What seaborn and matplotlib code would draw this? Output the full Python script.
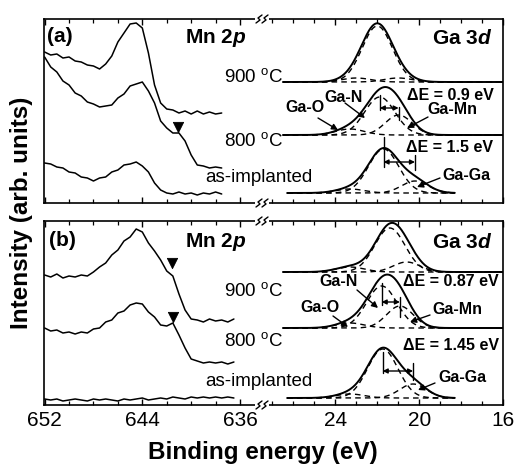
import numpy as np
import matplotlib
matplotlib.use("Agg")
import matplotlib.pyplot as plt
import seaborn as sns
from matplotlib.lines import Line2D
from matplotlib.patches import Rectangle, FancyArrowPatch
from matplotlib.ticker import MultipleLocator, FixedLocator

# ---------------- data ----------------
# Mn 2p spectra (binding energy in eV, intensity in arb. units)
mn_energy_a = np.arange(652.0, 637.4, -0.5)
mn_energy_b = np.arange(652.0, 636.4, -0.5)

mn_a_900 = [151, 148, 149, 145, 146, 142, 141, 138, 137, 134, 139, 147, 161, 170, 179,
            180, 175, 150, 118, 100, 94, 93, 90, 92, 89, 92, 89, 91, 89, 90]
mn_a_800 = [146, 136, 131, 122, 118, 110, 107, 101, 99, 96, 97, 98, 105, 109, 117,
            119, 121, 112, 100, 82, 75, 70, 70, 62, 48, 38, 37, 35, 36, 35]
mn_a_as = [40, 39, 36, 35, 31, 30, 26, 25, 22, 25, 26, 31, 33, 38, 39,
           41, 37, 31, 20, 13, 10, 9, 11, 9, 10, 8, 10, 9, 11, 9]

mn_b_900 = [130, 128, 131, 127, 129, 128, 130, 129, 133, 138, 142, 150, 155, 164, 168, 176,
            173, 162, 154, 145, 134, 129, 111, 95, 86, 85, 83, 86, 84, 85, 83, 86]
mn_b_800 = [77, 74, 75, 72, 73, 71, 73, 72, 76, 77, 83, 85, 92, 94, 100, 102,
            101, 93, 88, 80, 79, 82, 70, 57, 46, 44, 42, 43, 42, 43, 41, 43]
mn_b_as = [6, 5, 6, 4, 5, 6, 5, 4, 6, 5, 6, 5, 4, 6, 5, 6,
           7, 5, 6, 7, 6, 8, 7, 6, 8, 7, 8, 7, 8, 7, 8, 7]

# shoulder markers (triangles)
mark_a_e = [641.1]
mark_a_y = [76]
mark_b_e = [641.6, 641.5]
mark_b_y = [142, 88]

# Ga 3d fitted components: order = [Ga-O, Ga-N, Ga-Mn / Ga-Ga]
ga_a_base = [121, 68, 10]
ga_a_center = [[23.0, 22.0, 21.0], [23.3, 21.88, 20.98], [23.3, 21.7, 20.2]]
ga_a_height = [[4, 56, 4], [6, 38, 20], [4, 44, 12]]
ga_a_fwhm = [[1.6, 1.7, 1.6], [1.6, 1.7, 1.5], [1.6, 1.7, 1.5]]

ga_b_base = [133, 77, 7]
ga_b_center = [[23.3, 21.4, 20.6], [23.3, 21.79, 20.92], [23.3, 21.74, 20.29]]
ga_b_height = [[5, 44, 10], [5, 42, 22], [4, 49, 14]]
ga_b_fwhm = [[1.6, 1.7, 1.5], [1.6, 1.7, 1.5], [1.6, 1.7, 1.5]]

temps = ["900 $^{\\rm o}$C", "800 $^{\\rm o}$C", "as-implanted"]
delta_a = ["\u0394E = 0.9 eV", "\u0394E = 1.5 eV"]
delta_b = ["\u0394E = 0.87 eV", "\u0394E = 1.45 eV"]

# ---------------- style ----------------
sns.set_theme(style="white")
plt.rcParams["font.family"] = ["Liberation Sans", "DejaVu Sans"]
plt.rcParams["mathtext.fontset"] = "custom"
plt.rcParams["mathtext.rm"] = "Liberation Sans"
plt.rcParams["mathtext.it"] = "Liberation Sans:italic:bold"
plt.rcParams["mathtext.bf"] = "Liberation Sans:bold"
for k in ("text.color", "axes.labelcolor", "xtick.color", "ytick.color", "axes.edgecolor"):
    plt.rcParams[k] = "black"

W, H = 515, 470
fig = plt.figure(figsize=(W / 100, H / 100), dpi=100)
fig.patch.set_facecolor("white")


def rect(x0, y0, x1, y1):
    return [x0 / W, 1 - y1 / H, (x1 - x0) / W, (y1 - y0) / H]


XB = 262
axes = {
    "a": (fig.add_axes(rect(44, 19, XB, 203)), fig.add_axes(rect(XB, 19, 503, 203))),
    "b": (fig.add_axes(rect(44, 221, XB, 405)), fig.add_axes(rect(XB, 221, 503, 405))),
}

for key, (axl, axr) in axes.items():
    for ax in (axl, axr):
        ax.set_facecolor("none")
        ax.set_ylim(0, 184)
        ax.set_yticks([])
        for s in ax.spines.values():
            s.set_linewidth(1.2)
            s.set_color("black")
        ax.tick_params(which="both", direction="in", top=True, bottom=True,
                       left=False, right=False, colors="black", labelcolor="black",
                       labelbottom=(key == "b"), labelsize=15, pad=4)
        ax.tick_params(which="major", length=4.5, width=1.0)
        ax.tick_params(which="minor", length=3, width=0.9)
    axl.spines["right"].set_visible(False)
    axr.spines["left"].set_visible(False)
    axl.set_xlim(652.05, 634.2)
    axl.xaxis.set_major_locator(FixedLocator([652, 644, 636]))
    axl.xaxis.set_minor_locator(MultipleLocator(2))
    axr.set_xlim(27.5, 16)
    axr.xaxis.set_major_locator(FixedLocator([24, 20, 16]))
    axr.xaxis.set_minor_locator(MultipleLocator(1))

# ---------------- Mn 2p ----------------
for key, e, curves in (("a", mn_energy_a, (mn_a_900, mn_a_800, mn_a_as)),
                       ("b", mn_energy_b, (mn_b_900, mn_b_800, mn_b_as))):
    axl = axes[key][0]
    for c in curves:
        sns.lineplot(x=e, y=c, ax=axl, color="black", linewidth=1.1,
                     estimator=None, sort=False, legend=False)
    axl.set_xlabel("")
    axl.set_ylabel("")

sns.scatterplot(x=mark_a_e, y=mark_a_y, ax=axes["a"][0], marker="v", s=55,
                color="black", edgecolor="black", legend=False)
sns.scatterplot(x=mark_b_e, y=mark_b_y, ax=axes["b"][0], marker="v", s=55,
                color="black", edgecolor="black", legend=False)


# ---------------- Ga 3d ----------------
def gauss(e, c, h, w):
    s = w / 2.3548
    return h * np.exp(-0.5 * ((e - c) / s) ** 2)


def draw_ga(ax, bases, centers, heights, fwhms):
    for i, base in enumerate(bases):
        lo = 18.3 if i == 2 else 16.0
        hi = 26.3 if i == 2 else 26.5
        e = np.linspace(hi, lo, 400)
        comps = [gauss(e, c, h, w) for c, h, w in zip(centers[i], heights[i], fwhms[i])]
        for comp in comps:
            sns.lineplot(x=e, y=base + comp, ax=ax, color="black", linewidth=1.0,
                         linestyle=(0, (4, 3)), estimator=None, sort=False, legend=False)
        sns.lineplot(x=e, y=base + np.sum(comps, axis=0), ax=ax, color="black",
                     linewidth=1.4, estimator=None, sort=False, legend=False)
    ax.set_xlabel("")
    ax.set_ylabel("")


draw_ga(axes["a"][1], ga_a_base, ga_a_center, ga_a_height, ga_a_fwhm)
draw_ga(axes["b"][1], ga_b_base, ga_b_center, ga_b_height, ga_b_fwhm)


def delta_marker(ax, c1, c2, l1, l2, ya):
    ax.plot([c1, c1], l1, color="black", lw=1.0)
    ax.plot([c2, c2], l2, color="black", lw=1.0)
    ax.annotate("", xy=(c2, ya), xytext=(c1, ya),
                arrowprops=dict(arrowstyle="<|-|>", color="black", lw=1.0,
                                mutation_scale=7, shrinkA=0, shrinkB=0))


axr = axes["a"][1]
delta_marker(axr, ga_a_center[1][1], ga_a_center[1][2], (108, 93), (96, 83), 95)
delta_marker(axr, ga_a_center[2][1], ga_a_center[2][2], (66, 36), (48, 33), 41)
axr = axes["b"][1]
delta_marker(axr, ga_b_center[1][1], ga_b_center[1][2], (122, 100), (108, 88), 103)
delta_marker(axr, ga_b_center[2][1], ga_b_center[2][2], (53, 32), (42, 25), 34)

# ---------------- texts ----------------
bold15 = dict(fontsize=15, fontweight="bold", color="black", ha="center", va="center")
lab = dict(fontsize=11.5, fontweight="bold", color="black", ha="center", va="center")
tmp = dict(fontsize=13.5, color="black", ha="right", va="center")

fig.text(60 / W, 1 - 36 / H, "(a)", **bold15)
fig.text(62 / W, 1 - 241 / H, "(b)", **bold15)
for y in (38, 242):
    fig.text(216 / W, 1 - y / H, "Mn 2$\\it{p}$", **bold15)
for y in (39, 243):
    fig.text(462 / W, 1 - y / H, "Ga 3$\\it{d}$", **bold15)

for (x, y), t in zip(((283, 77), (283, 141), (312, 178)), temps):
    fig.text(x / W, 1 - y / H, t, **tmp)
for (x, y), t in zip(((283, 291), (283, 341), (313, 381)), temps):
    fig.text(x / W, 1 - y / H, t, **tmp)


def label(text, pos, start=None, end=None):
    fig.text(pos[0] / W, 1 - pos[1] / H, text, **lab)
    if start is not None:
        fig.add_artist(FancyArrowPatch(
            (start[0] / W, 1 - start[1] / H), (end[0] / W, 1 - end[1] / H),
            transform=fig.transFigure, arrowstyle="-|>", mutation_scale=9,
            color="black", lw=1.0, shrinkA=0, shrinkB=0))


label("Ga-N", (344, 97), (345, 103), (365, 118))
label("Ga-O", (305, 108), (318, 118), (338, 130))
label("Ga-Mn", (452, 110), (428, 117), (407, 128))
label(delta_a[0], (450, 95))
label(delta_a[1], (449, 148))
label("Ga-Ga", (466, 175), (440, 178), (417, 187))

label("Ga-N", (339, 282), (357, 290), (378, 308))
label("Ga-O", (320, 308), (333, 316), (348, 327))
label("Ga-Mn", (457, 310), (430, 315), (410, 322))
label(delta_b[0], (451, 282))
label(delta_b[1], (451, 345))
label("Ga-Ga", (462, 378), (435, 383), (418, 390))

fig.text(22 / W, 1 - 213 / H, "Intensity (arb. units)", rotation=90, ha="center",
         va="center", fontsize=17.5, fontweight="bold", color="black")
fig.text(263 / W, 1 - 452 / H, "Binding energy (eV)", ha="center", va="center",
         fontsize=17.5, fontweight="bold", color="black")


# ---------------- axis-break marks ----------------
def brk(x, y):
    fig.add_artist(Rectangle(((x - 7) / W, 1 - (y + 2) / H), 14 / W, 4 / H,
                             transform=fig.transFigure, facecolor="white",
                             edgecolor="none", zorder=5))
    for dx in (-3, 3):
        xs = [x + dx - 3, x + dx + 1, x + dx - 1, x + dx + 3]
        ys = [y + 4, y + 1, y - 1, y - 4]
        fig.add_artist(Line2D([v / W for v in xs], [1 - v / H for v in ys],
                              transform=fig.transFigure, color="black", lw=1.0, zorder=6))


for y in (19, 203, 221, 405):
    brk(XB, y)

fig.savefig("out.png", dpi=100, facecolor="white")
